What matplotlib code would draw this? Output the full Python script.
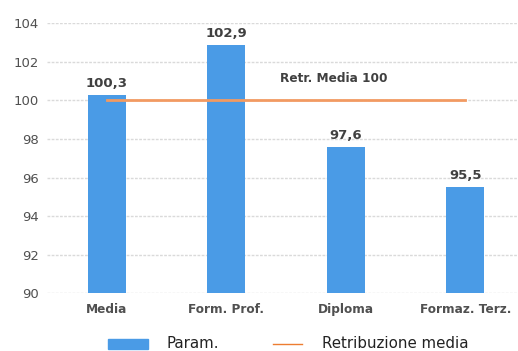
import matplotlib
matplotlib.use("Agg")
import matplotlib.pyplot as plt
from matplotlib.patches import Rectangle
from matplotlib.lines import Line2D

# ── data ────────────────────────────────────────────────────────────────────
CATEGORIES = ["Media", "Form. Prof.", "Diploma", "Formaz. Terz."]
PARAM      = [100.3, 102.9, 97.6, 95.5]
RETR_MEDIA = [100, 100, 100, 100]
Y_TICKS    = [90, 92, 94, 96, 98, 100, 102, 104]

BAR_COL  = "#4A9BE6"
LINE_COL = "#F29A62"
TXT_COL  = "#404040"

W, H = 518, 351
fig = plt.figure(figsize=(W / 100, H / 100), dpi=100)
ax = fig.add_axes([47 / W, 1 - 293.3 / H, 1 - 47 / W, (293.3 - 23.3) / H])

x = list(range(len(CATEGORIES)))
ax.bar(x, PARAM, width=0.32, color=BAR_COL, zorder=2)
ax.plot(x, RETR_MEDIA, color=LINE_COL, lw=2, zorder=3)

for xi, v in zip(x, PARAM):
    ax.text(xi, v + 0.25, f"{v:.1f}".replace(".", ","), ha="center", va="bottom",
            fontsize=9.5, fontweight="bold", color=TXT_COL)

ax.text(1.9, RETR_MEDIA[0] + 0.8, "Retr. Media 100", ha="center", va="bottom",
        fontsize=8.7, fontweight="bold", color=TXT_COL)

ax.set_ylim(90, 104)
ax.set_xlim(-0.5, -0.5 + 471 / 119.5)
ax.set_yticks(Y_TICKS)
ax.set_xticks(x)
ax.set_xticklabels(CATEGORIES, fontsize=8.7, fontweight="bold", color="#505050")
ax.tick_params(axis="y", labelsize=9.5, colors="#505050", length=0, pad=6)
ax.tick_params(axis="x", length=0, pad=7)
ax.yaxis.grid(True, color="#DADADA", lw=1, ls=(0, (2, 1)), zorder=0)
for s in ax.spines.values():
    s.set_visible(False)

# legend, placed by hand in pixel units
ly = 1 - 344 / H
fig.add_artist(Rectangle((108 / W, ly - 5 / H), 40 / W, 10 / H,
                         color=BAR_COL, transform=fig.transFigure))
fig.text(167 / W, ly, "Param.", fontsize=10.8, color="#222222", va="center")
fig.add_artist(Line2D([273 / W, 302 / W], [ly, ly], color="#ED7D31", lw=1,
                      transform=fig.transFigure))
fig.text(322 / W, ly, "Retribuzione media", fontsize=10.8, color="#222222",
         va="center")

fig.savefig("out.png", dpi=100)
